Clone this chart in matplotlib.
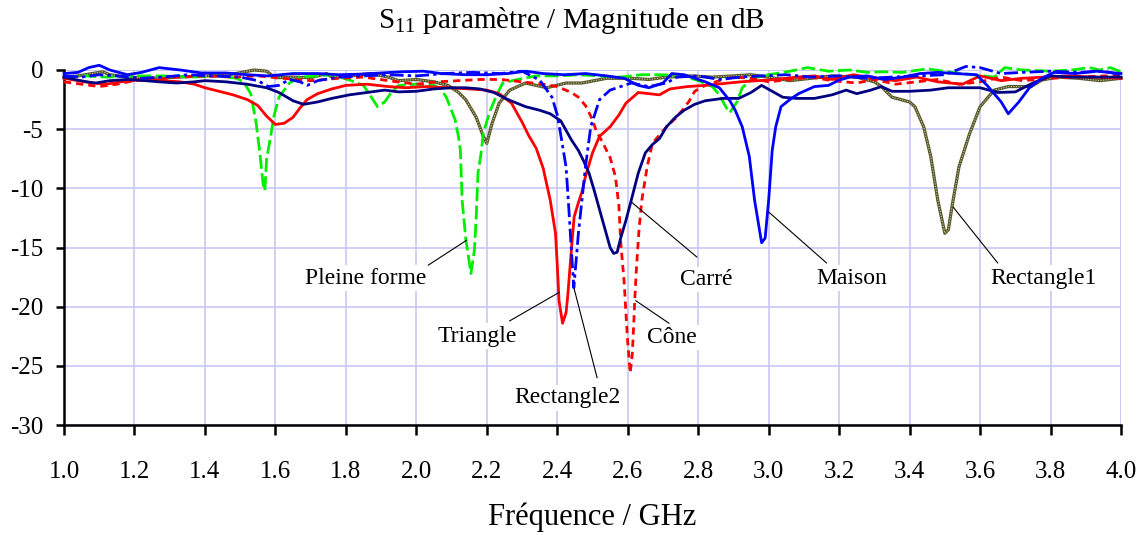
import matplotlib
matplotlib.use("Agg")
import matplotlib.pyplot as plt

plt.rcParams['font.family'] = ['Liberation Serif', 'DejaVu Serif']
plt.rcParams['mathtext.fontset'] = 'custom'
plt.rcParams['mathtext.rm'] = 'Liberation Serif'

# ---- measured S11 curves (frequency in GHz, magnitude in dB) ----
f_pleine = [1.00, 1.06, 1.12, 1.20, 1.28, 1.36, 1.44, 1.49, 1.51, 1.53, 1.545, 1.555, 1.565, 1.57,
            1.575, 1.585, 1.595, 1.61, 1.64, 1.67, 1.72, 1.76, 1.81, 1.85, 1.87, 1.89, 1.91, 1.93,
            1.95, 2.00, 2.05, 2.07, 2.085, 2.11, 2.12, 2.125, 2.13, 2.14, 2.155, 2.165, 2.17,
            2.175, 2.185, 2.19, 2.21, 2.23, 2.245, 2.28, 2.34, 2.40, 2.46, 2.52, 2.58, 2.64, 2.70,
            2.76, 2.80, 2.84, 2.86, 2.88, 2.89, 2.91, 2.925, 2.955, 3.00, 3.06, 3.11, 3.17, 3.23,
            3.28, 3.32, 3.38, 3.45, 3.52, 3.58, 3.64, 3.67, 3.72, 3.80, 3.86, 3.91, 3.94, 3.97, 4.00]
s_pleine = [-0.6, -0.5, -0.6, -0.5, -0.5, -0.6, -0.5, -0.7, -1.0, -2.0, -4.4, -6.8, -9.6, -10.2,
            -7.5, -5.9, -4.0, -2.3, -1.1, -0.6, -0.5, -0.4, -0.85, -1.3, -2.2, -3.1, -2.7, -1.85,
            -1.3, -1.2, -1.3, -1.6, -2.3, -4.2, -5.7, -6.8, -11.0, -14.2, -17.2, -15.2, -12.4,
            -8.7, -6.8, -5.3, -3.4, -2.0, -1.1, -0.85, -0.5, -0.5, -0.4, -0.5, -0.6, -0.4, -0.4,
            -0.5, -0.9, -1.4, -2.1, -3.2, -3.6, -2.7, -1.5, -0.7, -0.4, -0.1, 0.2, -0.1, 0.0,
            -0.2, -0.15, -0.2, 0.1, -0.2, -0.4, -0.6, 0.2, 0.0, -0.1, 0.0, 0.2, 0.0, 0.2, -0.15]

f_triangle = [1.00, 1.04, 1.08, 1.12, 1.16, 1.22, 1.28, 1.33, 1.37, 1.40, 1.44, 1.48, 1.52, 1.55,
              1.575, 1.60, 1.625, 1.65, 1.67, 1.69, 1.72, 1.76, 1.80, 1.86, 1.92, 1.97, 2.03, 2.09,
              2.15, 2.20, 2.235, 2.27, 2.30, 2.32, 2.34, 2.36, 2.38, 2.395, 2.40, 2.405, 2.415,
              2.425, 2.43, 2.44, 2.448, 2.46, 2.47, 2.48, 2.50, 2.52, 2.55, 2.575, 2.595, 2.63,
              2.66, 2.69, 2.72, 2.77, 2.82, 2.87, 2.92, 2.97, 3.02, 3.08, 3.13, 3.18, 3.24, 3.30,
              3.36, 3.42, 3.48, 3.55, 3.60, 3.66, 3.72, 3.78, 3.85, 3.92, 4.00]
s_triangle = [-0.7, -0.9, -1.1, -1.2, -1.0, -0.8, -0.9, -1.0, -1.2, -1.5, -1.8, -2.1, -2.5, -3.0,
              -3.9, -4.6, -4.5, -4.0, -3.2, -2.5, -2.0, -1.6, -1.3, -1.2, -1.4, -1.5, -1.4, -1.5,
              -1.6, -1.7, -2.0, -2.8, -4.4, -5.6, -6.6, -8.3, -11.0, -13.8, -16.5, -19.5, -21.4,
              -20.5, -19.0, -15.2, -12.4, -11.2, -10.3, -9.0, -7.0, -5.6, -4.8, -3.8, -2.8, -1.9,
              -2.0, -2.1, -1.6, -1.4, -1.3, -1.15, -1.0, -0.9, -0.8, -0.6, -0.5, -0.8, -0.4, -0.7,
              -0.9, -0.6, -1.0, -1.2, -0.5, -0.9, -0.7, -0.6, -0.5, -0.6, -0.7]

f_rect2 = [1.00, 1.05, 1.10, 1.15, 1.22, 1.28, 1.35, 1.42, 1.50, 1.55, 1.58, 1.61, 1.64, 1.67,
           1.69, 1.72, 1.78, 1.85, 1.92, 2.00, 2.08, 2.16, 2.24, 2.30, 2.35, 2.385, 2.40, 2.41,
           2.425, 2.433, 2.44, 2.447, 2.46, 2.47, 2.48, 2.495, 2.52, 2.55, 2.61, 2.66, 2.71, 2.74,
           2.80, 2.86, 2.92, 2.98, 3.05, 3.12, 3.20, 3.28, 3.35, 3.42, 3.50, 3.56, 3.60, 3.66,
           3.72, 3.80, 3.88, 3.95, 4.00]
s_rect2 = [-0.5, -0.6, -0.4, -0.5, -0.7, -0.6, -0.4, -0.5, -0.6, -0.9, -1.4, -1.3, -0.8, -1.0,
           -1.3, -0.9, -0.6, -0.5, -0.4, -0.5, -0.3, -0.2, -0.3, -0.1, -0.85, -2.3, -3.8, -5.5,
           -8.2, -11.8, -15.2, -18.4, -13.8, -11.0, -8.2, -4.8, -2.5, -1.7, -1.1, -1.4, -1.1, -0.6,
           -0.5, -0.8, -0.6, -0.5, -0.4, -0.6, -0.5, -0.7, -0.6, -0.5, -0.4, 0.3, 0.2, -0.3,
           -0.2, -0.1, -0.2, -0.1, -0.4]

f_cone = [1.00, 1.05, 1.10, 1.15, 1.20, 1.26, 1.32, 1.40, 1.48, 1.55, 1.62, 1.70, 1.78, 1.85,
          1.92, 2.00, 2.06, 2.12, 2.18, 2.24, 2.30, 2.36, 2.40, 2.44, 2.46, 2.48, 2.50, 2.51,
          2.53, 2.55, 2.565, 2.575, 2.58, 2.59, 2.595, 2.60, 2.607, 2.613, 2.617, 2.62, 2.625,
          2.632, 2.64, 2.655, 2.67, 2.69, 2.71, 2.735, 2.755, 2.775, 2.79, 2.82, 2.86, 2.90,
          2.95, 3.00, 3.06, 3.12, 3.18, 3.25, 3.30, 3.36, 3.42, 3.48, 3.54, 3.60, 3.66, 3.72,
          3.80, 3.88, 3.95, 4.00]
s_cone = [-1.0, -1.2, -1.4, -1.2, -0.9, -0.8, -0.6, -0.5, -0.6, -0.5, -0.7, -0.9, -0.7, -0.6,
          -0.9, -1.2, -1.0, -0.9, -0.8, -0.8, -1.0, -1.2, -1.4, -1.9, -2.3, -3.0, -4.2, -5.1,
          -6.2, -7.4, -9.0, -11.5, -14.5, -18.0, -20.6, -23.0, -25.6, -24.0, -21.5, -19.4, -16.6,
          -13.5, -11.0, -8.2, -6.2, -5.5, -4.8, -4.1, -3.4, -2.6, -1.8, -1.3, -0.9, -0.6,
          -0.7, -1.0, -0.8, -0.6, -0.9, -1.1, -0.8, -1.2, -1.0, -0.8, -1.2, -1.0, -0.6, -0.9,
          -0.7, -0.6, -0.5, -0.5]

f_carre = [1.00, 1.03, 1.065, 1.09, 1.13, 1.18, 1.23, 1.27, 1.32, 1.37, 1.40, 1.46, 1.52, 1.575,
           1.61, 1.65, 1.68, 1.72, 1.76, 1.81, 1.86, 1.91, 1.95, 2.00, 2.05, 2.10, 2.14, 2.18,
           2.22, 2.26, 2.31, 2.35, 2.38, 2.41, 2.425, 2.44, 2.46, 2.475, 2.49, 2.505, 2.52, 2.535,
           2.55, 2.56, 2.57, 2.58, 2.595, 2.61, 2.63, 2.65, 2.67, 2.69, 2.71, 2.735, 2.76, 2.79,
           2.82, 2.87, 2.915, 2.95, 2.98, 3.01, 3.04, 3.08, 3.13, 3.18, 3.22, 3.25, 3.29, 3.32,
           3.35, 3.40, 3.46, 3.51, 3.56, 3.60, 3.65, 3.70, 3.75, 3.80, 3.86, 3.93, 4.00]
s_carre = [-0.6, -0.8, -1.0, -1.1, -0.9, -0.8, -0.9, -1.0, -1.1, -1.0, -0.9, -1.0, -1.2, -1.5,
           -1.9, -2.6, -2.9, -2.7, -2.4, -2.1, -1.9, -1.7, -1.85, -1.8, -1.6, -1.5, -1.5, -1.6,
           -1.9, -2.5, -3.1, -3.4, -3.7, -4.3, -5.1, -5.9, -6.8, -7.7, -8.7, -10.2, -11.8, -13.4,
           -15.0, -15.5, -15.4, -14.2, -12.7, -11.0, -8.7, -7.0, -6.3, -5.8, -4.8, -4.0, -3.4, -2.9,
           -2.6, -2.4, -2.4, -1.9, -1.3, -1.8, -2.3, -2.4, -2.4, -2.1, -1.7, -2.0, -1.7, -1.4,
           -1.8, -1.8, -1.7, -1.5, -1.5, -1.5, -1.9, -1.85, -1.1, -0.5, -0.6, -0.6, -0.6]

f_maison = [1.00, 1.04, 1.07, 1.10, 1.13, 1.18, 1.22, 1.27, 1.33, 1.39, 1.46, 1.52, 1.58, 1.65,
            1.72, 1.78, 1.84, 1.90, 1.96, 2.02, 2.07, 2.14, 2.20, 2.26, 2.31, 2.36, 2.42, 2.48,
            2.54, 2.59, 2.63, 2.66, 2.70, 2.725, 2.76, 2.82, 2.86, 2.89, 2.905, 2.925, 2.945,
            2.96, 2.98, 2.99, 3.00, 3.01, 3.02, 3.035, 3.06, 3.085, 3.13, 3.17, 3.20, 3.23, 3.28,
            3.33, 3.38, 3.43, 3.48, 3.53, 3.59, 3.62, 3.66, 3.68, 3.71, 3.74, 3.775, 3.81, 3.87,
            3.93, 4.00]
s_maison = [-0.3, -0.2, 0.2, 0.4, 0.0, -0.4, -0.2, 0.2, 0.0, -0.25, -0.25, -0.4, -0.5, -0.3,
            -0.3, -0.4, -0.35, -0.25, -0.15, -0.1, -0.3, -0.4, -0.4, -0.3, -0.1, -0.3, -0.4, -0.3,
            -0.5, -0.7, -1.3, -1.5, -1.1, -0.3, -0.4, -1.0, -1.5, -2.6, -3.4, -4.8, -7.3,
            -11.0, -14.6, -14.2, -11.0, -6.8, -4.8, -3.1, -2.5, -2.0, -1.4, -1.3, -0.85, -0.6, -0.5,
            -0.8, -0.6, -0.3, -0.2, -0.3, -0.4, -1.3, -2.7, -3.7, -2.7, -1.5, -0.7, -0.2, -0.3,
            -0.1, -0.3]

f_rect1 = [1.00, 1.04, 1.08, 1.11, 1.13, 1.18, 1.25, 1.32, 1.40, 1.47, 1.54, 1.575, 1.60, 1.65,
           1.70, 1.745, 1.76, 1.81, 1.87, 1.92, 1.95, 2.00, 2.05, 2.09, 2.12, 2.14, 2.17, 2.19,
           2.20, 2.215, 2.235, 2.265, 2.31, 2.37, 2.425, 2.47, 2.54, 2.61, 2.66, 2.71, 2.78, 2.84,
           2.90, 2.95, 3.00, 3.06, 3.12, 3.18, 3.25, 3.30, 3.32, 3.35, 3.40, 3.415, 3.44, 3.46,
           3.48, 3.50, 3.51, 3.52, 3.54, 3.57, 3.60, 3.64, 3.68, 3.745, 3.775, 3.82, 3.88, 3.94,
           4.00]
s_rect1 = [-0.6, -0.5, -0.3, -0.15, -0.4, -0.6, -0.7, -0.6, -0.5, -0.4, 0.0, -0.1, -0.65, -0.6,
           -0.65, -0.3, -0.6, -0.5, -0.3, -0.6, -0.9, -0.8, -1.0, -1.3, -1.9, -2.5, -4.0, -5.6,
           -6.2, -4.5, -2.8, -1.7, -1.1, -1.5, -1.1, -1.1, -0.7, -0.7, -0.8, -0.6, -0.5, -0.6,
           -0.5, -0.4, -0.6, -0.9, -0.7, -0.5, -0.6, -1.0, -1.4, -2.3, -2.7, -3.1, -4.8, -7.3,
           -11.0, -13.8, -13.5, -11.6, -8.2, -5.4, -3.1, -1.7, -1.4, -1.4, -0.85, -0.6, -0.7, -0.9,
           -0.7]

# curve labels: (text, text position, leader start, leader end on curve)
labels = ["Pleine forme", "Triangle", "Rectangle2", "Cône", "Carré", "Maison", "Rectangle1"]
label_xy = [(1.855, -17.6), (2.173, -22.5), (2.428, -27.7), (2.725, -22.6),
            (2.824, -17.7), (3.235, -17.6), (3.780, -17.6)]
leader_from = [(2.023, -16.7), (2.265, -21.2), (2.513, -26.0), (2.717, -21.4),
               (2.796, -15.8), (3.164, -16.3), (3.650, -16.3)]
leader_to = [(2.142, -14.4), (2.405, -18.8), (2.448, -18.5), (2.623, -19.5),
             (2.612, -11.2), (3.000, -12.0), (3.524, -11.6)]

x_ticks = [1.0, 1.2, 1.4, 1.6, 1.8, 2.0, 2.2, 2.4, 2.6, 2.8, 3.0, 3.2, 3.4, 3.6, 3.8, 4.0]
y_ticks = [-30, -25, -20, -15, -10, -5, 0]

fig = plt.figure(figsize=(11.43, 5.35), dpi=100)
ax = fig.add_axes([64 / 1143, 1 - 425 / 535, (1121 - 64) / 1143, (425 - 70) / 535])

grid_c = '#c8c8f4'
ax.set_xlim(1.0, 4.0)
ax.set_ylim(-30, 0)
ax.set_xticks(x_ticks)
ax.set_yticks(y_ticks)
ax.set_xticklabels([f"{t:.1f}" for t in x_ticks])
ax.set_yticklabels([str(t) for t in y_ticks])
ax.grid(True, color=grid_c, lw=1.2)
ax.set_axisbelow(True)
for side in ('top', 'right'):
    ax.spines[side].set_visible(False)
ax.axhline(0, color=grid_c, lw=1.2, zorder=0.5)
ax.axvline(4.0, color=grid_c, lw=1.2, zorder=0.5)
for side in ('left', 'bottom'):
    ax.spines[side].set_linewidth(1.8)
ax.tick_params(axis='x', direction='out', length=7, width=1.8, pad=19, labelsize=18)
ax.tick_params(axis='y', direction='out', length=6, width=1.8, pad=9, labelsize=18)

lw = 2.0
ax.plot(f_rect1, s_rect1, color='#55552a', lw=2.3, clip_on=False, zorder=3)
ax.plot(f_rect1, s_rect1, color='#cfcf9c', lw=0.8, dashes=(1, 1.3), clip_on=False, zorder=3.1)
ax.plot(f_pleine, s_pleine, color='#00ee00', lw=lw, dashes=(5, 1.6), clip_on=False, zorder=3.2)
ax.plot(f_cone, s_cone, color='#ff0000', lw=lw, dashes=(2.6, 1.8), clip_on=False, zorder=3.3)
ax.plot(f_triangle, s_triangle, color='#ff0000', lw=lw, clip_on=False, zorder=3.4)
ax.plot(f_carre, s_carre, color='#000080', lw=lw, clip_on=False, zorder=3.5)
ax.plot(f_rect2, s_rect2, color='#0000ff', lw=lw, dashes=(5, 1.5, 1.2, 1.5), clip_on=False, zorder=3.6)
ax.plot(f_maison, s_maison, color='#0000ff', lw=lw, clip_on=False, zorder=3.7)

for txt, (tx, ty), (x0, y0), (x1, y1) in zip(labels, label_xy, leader_from, leader_to):
    ax.plot([x0, x1], [y0, y1], color='black', lw=0.8, zorder=4)
    ax.text(tx, ty, txt, fontsize=17, ha='center', va='center', zorder=5,
            bbox=dict(boxstyle='square,pad=0.1', fc='white', ec='none'))

ax.set_xlabel("Fréquence / GHz", fontsize=22, labelpad=14)
fig.text(0.5, 1 - 20 / 535, r"S$_{\mathrm{11}}$ paramètre / Magnitude en dB",
         ha='center', va='center', fontsize=21)

fig.savefig("out.png", dpi=100, facecolor='white')
